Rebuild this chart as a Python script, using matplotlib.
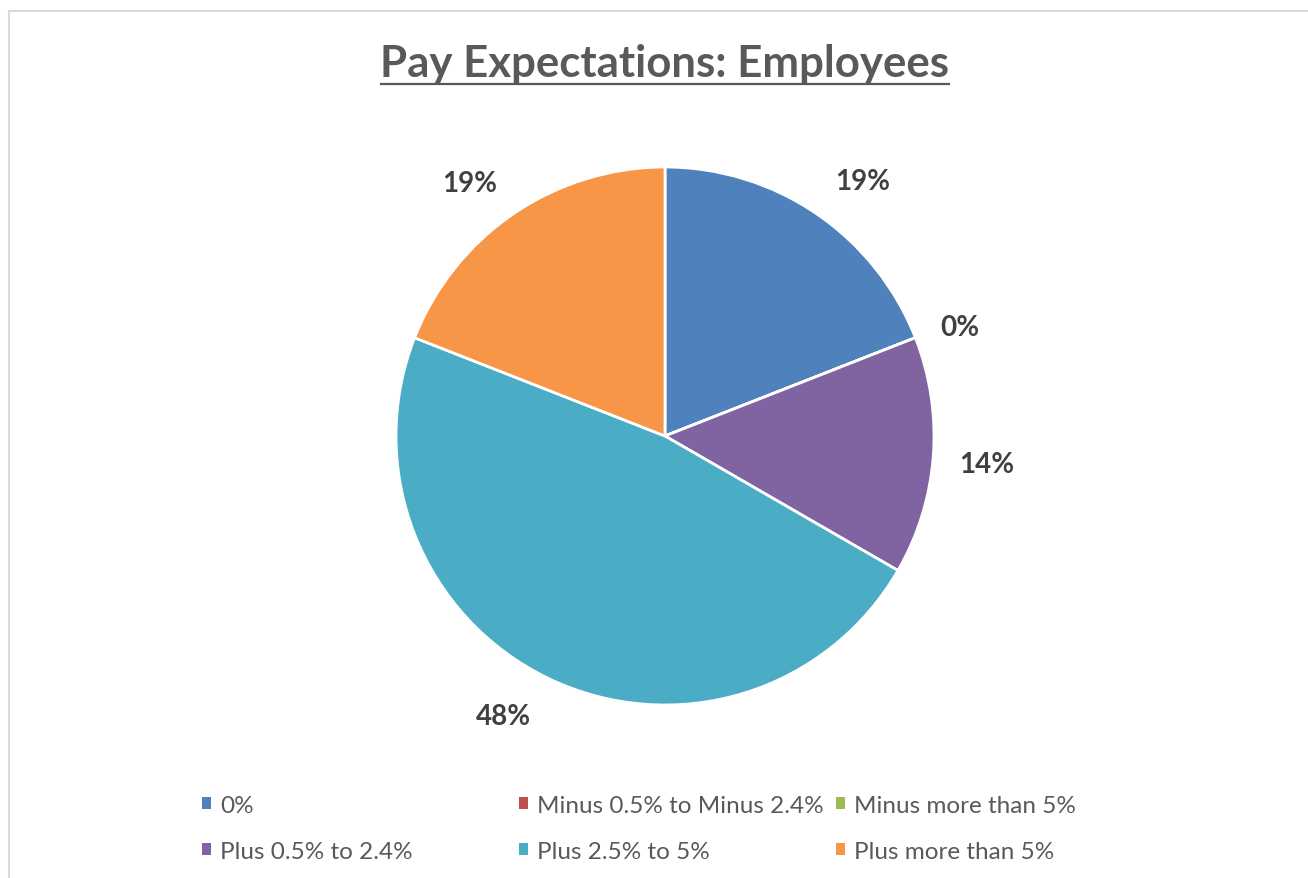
import matplotlib
matplotlib.use("Agg")
import matplotlib.pyplot as plt
from matplotlib.patches import Patch, Rectangle
import numpy as np

# Survey responses for expected pay change
categories = ["0%", "Minus 0.5% to Minus 2.4%", "Minus more than 5%",
              "Plus 0.5% to 2.4%", "Plus 2.5% to 5%", "Plus more than 5%"]
counts = [4, 0, 0, 3, 10, 4]
colors = ["#4F81BD", "#C0504D", "#9BBB59", "#8064A2", "#4BACC6", "#F79646"]
title = "Pay Expectations: Employees"

# best-fit placement of the percentage labels (angle nudge in degrees, radius)
label_nudge = [-3.5, -1.1, -1.1, -0.7, -4.3, 3.4]
label_radius = [1.20, 1.17, 1.17, 1.20, 1.20, 1.19]

plt.rcParams["font.family"] = ["Lato", "DejaVu Sans"]

W, H = 1308, 879
fig = plt.figure(figsize=(W / 100, H / 100), dpi=100)
fig.patch.set_facecolor("white")

# chart-area frame
fig.patches.append(Rectangle((9 / W, -0.05), 1.2, 1 - 12 / H + 0.05,
                             transform=fig.transFigure, fill=False,
                             edgecolor="#D9D9D9", linewidth=1.5))

cx, cy, r = 665, 437, 269
ax = fig.add_axes([(cx - r) / W, (H - cy - r) / H, 2 * r / W, 2 * r / H])
wedges, _ = ax.pie(counts, colors=colors, startangle=90, counterclock=False,
                   radius=1.0,
                   wedgeprops=dict(edgecolor="white", linewidth=2.0))
ax.set_xlim(-1, 1)
ax.set_ylim(-1, 1)
ax.set_aspect("equal")
ax.axis("off")

# percentage labels outside each slice
total = sum(counts)
shown = set()
for w, c, dang, rr in zip(wedges, counts, label_nudge, label_radius):
    pct = 100.0 * c / total
    mid_deg = (w.theta1 + w.theta2) / 2
    key = round(float(mid_deg), 3)
    if key in shown:
        continue
    shown.add(key)
    a = np.deg2rad(mid_deg + dang)
    ax.text(rr * np.cos(a), rr * np.sin(a), f"{pct:.0f}%",
            ha="center", va="center", fontsize=20, fontweight="bold",
            color="#404040", clip_on=False)

# underlined title
t = fig.text(665 / W, 1 - 77 / H, title, ha="center", va="baseline",
             fontsize=31.5, fontweight="bold", color="#595959")
fig.canvas.draw()
bb = t.get_window_extent()
fig.add_artist(plt.Line2D([bb.x0 / W, bb.x1 / W], [1 - 85 / H, 1 - 85 / H],
                          transform=fig.transFigure, color="#595959",
                          linewidth=1.6))

# legend: three equal-width columns, row-major order
col_x = [202, 519, 836]
for j, x in enumerate(col_x):
    idx = [j, j + 3]
    handles = [Patch(facecolor=colors[i], edgecolor="none") for i in idx]
    labels = [categories[i] for i in idx]
    fig.legend(handles, labels, loc="upper left",
               bbox_to_anchor=(x / W, 1 - 796 / H), frameon=False,
               fontsize=17.5, labelcolor="#595959",
               handlelength=0.38, handleheight=0.38, handletextpad=0.36,
               labelspacing=1.03, borderpad=0, borderaxespad=0)

fig.savefig("out.png", dpi=100, facecolor="white")
